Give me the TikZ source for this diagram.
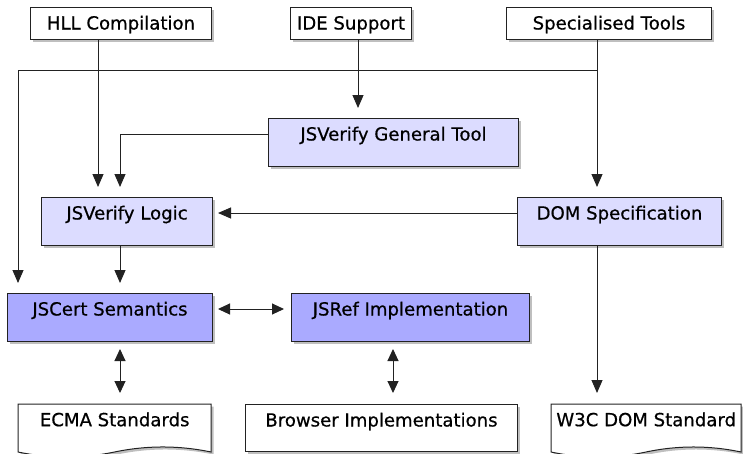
\documentclass[tikz,border=0pt]{standalone}
\usepackage{fontspec}
\setmainfont{DejaVu Sans}
\newfontfamily\boxfam{DejaVu Sans}[FakeBold=0.6]
\usetikzlibrary{arrows.meta,shadows,calc}
\definecolor{lav}{HTML}{DCDCFF}
\definecolor{lavd}{HTML}{AAAAFF}
\definecolor{lc}{HTML}{222222}
\newcommand{\boxfont}{\boxfam\fontsize{18.1}{22}\selectfont}
\begin{document}
\begin{tikzpicture}[x=1pt,y=-1pt,
  shad/.style={drop shadow={opacity=0.25,shadow xshift=2.5pt,shadow yshift=-2.5pt,fill=black}},
  box/.style={draw=lc,line width=1pt,anchor=north west,inner xsep=0pt,inner ysep=0pt,text height=22pt,text depth=10pt,font=\boxfont,text=black,fill=white,shad},
  doc/.style={anchor=north west,inner xsep=0pt,inner ysep=0pt,text height=22pt,text depth=26pt,font=\boxfont,text=black},
  tall/.style={text depth=26pt},
  light/.style={fill=lav},
  dark/.style={fill=lavd},
  wire/.style={draw=lc,line width=1pt},
  arr/.style={wire,-{Triangle[length=13pt,width=11pt]}},
  dbl/.style={wire,{Triangle[length=12pt,width=11pt]}-{Triangle[length=12pt,width=11pt]}}
]
\useasboundingbox (0,0) rectangle (743,453);
\clip (0,0) rectangle (743,453);
\fill[white] (0,0) rectangle (743,453);

% document-shaped outlines
\draw[wire,fill=white,shad] (18,404) -- (211,404) -- (211,452) .. controls (178.8,445.3) and (146.7,445.3) .. (114.5,452) .. controls (82.3,458.7) and (50.2,458.7) .. (18,452) -- cycle;
\draw[wire,fill=white,shad] (551,404) -- (741,404) -- (741,452) .. controls (709.3,445.3) and (677.7,445.3) .. (646,452) .. controls (614.3,458.7) and (582.7,458.7) .. (551,452) -- cycle;

\node[box,minimum width=181pt] (hll) at (30,7) {HLL Compilation};
\node[box,minimum width=121pt] (ide) at (290,7) {IDE Support};
\node[box,minimum width=205pt] (spec) at (506,7) {Specialised Tools};
\node[box,tall,light,minimum width=250pt] (gen) at (268,118) {JSVerify General Tool};
\node[box,tall,light,minimum width=171pt] (logic) at (41,197) {JSVerify Logic};
\node[box,tall,light,minimum width=204pt] (dom) at (517,197) {DOM Specification};
\node[box,tall,dark,minimum width=205pt] (cert) at (7,293) {JSCert Semantics};
\node[box,tall,dark,minimum width=238pt] (ref) at (291,293) {JSRef Implementation};
\node[box,text depth=25pt,minimum width=272pt] (browser) at (245,404) {Browser Implementations};
\node[doc,minimum width=193pt] (ecma) at (18,404) {ECMA Standards};
\node[doc,minimum width=190pt] (w3c) at (551,404) {W3C DOM Standard};

\coordinate (xL) at (18,0);
\coordinate (xH) at (98,0);
\coordinate (xG) at (120,0);
\coordinate (xI) at (358,0);
\coordinate (xS) at (597,0);
\coordinate (xR) at (393,0);
\coordinate (yT) at (0,70);
\coordinate (yG) at (0,134);
\coordinate (yD) at (0,213);
\coordinate (yC) at (0,309);

\draw[arr,shorten >=10pt] (hll.south -| xH) -- (logic.north -| xH);
\draw[arr,shorten >=10pt] (ide.south -| xI) -- (gen.north -| xI);
\draw[arr,shorten >=10pt] (spec.south -| xS) -- (dom.north -| xS);
\draw[arr,shorten >=10pt] (xS |- yT) -- (xL |- yT) -- (cert.north -| xL);
\draw[arr,shorten >=10pt] (gen.west |- yG) -- (xG |- yG) -- (logic.north -| xG);
\draw[arr,shorten >=5pt] (dom.west |- yD) -- (logic.east |- yD);
\draw[arr,shorten >=10pt] (logic.south -| xG) -- (cert.north -| xG);
\draw[dbl,shorten <=5pt,shorten >=7pt] (cert.east |- yC) -- (ref.west |- yC);
\draw[dbl,shorten <=7pt,shorten >=11pt] (cert.south -| xG) -- (ecma.north -| xG);
\draw[dbl,shorten <=7pt,shorten >=11pt] (ref.south -| xR) -- (browser.north -| xR);
\draw[arr,shorten >=11pt] (dom.south -| xS) -- (w3c.north -| xS);
\end{tikzpicture}
\end{document}
